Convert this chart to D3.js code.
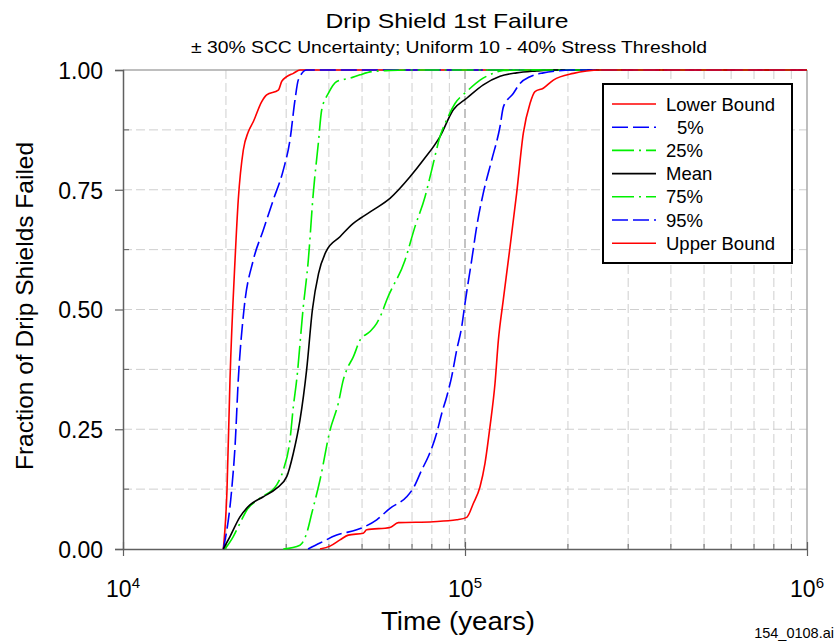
<!DOCTYPE html>
<html>
<head>
<meta charset="utf-8">
<script src="https://cdn.jsdelivr.net/npm/d3@7"></script>
<style>
  html, body { margin: 0; padding: 0; background: #fff; }
  svg { display: block; font-family: "Liberation Sans", Arial, sans-serif; }
</style>
</head>
<body>
<svg id="chart" width="840" height="643"></svg>
<script>
// ---- data (time in years, fraction failed) ----
const seriesNames = ["Lower Bound", "5%", "25%", "Mean", "75%", "95%", "Upper Bound"];
const lowerBoundT = [19650, 20140, 20550, 21260, 21730, 22480, 23250, 24040, 25450, 26310, 28450, 29110, 30110, 31480, 32920, 1000000];
const lowerBoundF = [0, 0.123, 0.353, 0.603, 0.729, 0.833, 0.871, 0.892, 0.934, 0.948, 0.958, 0.976, 0.986, 0.993, 1.0, 1.0];
const p05T = [19650, 20780, 21260, 21730, 22580, 24040, 25720, 27510, 29420, 30780, 31830, 32550, 34440, 1000000];
const p05F = [0, 0.123, 0.214, 0.353, 0.5, 0.603, 0.666, 0.729, 0.791, 0.854, 0.937, 0.979, 1.0, 1.0];
const p25T = [19870, 21010, 21980, 23000, 25150, 28150, 29420, 30780, 31480, 32200, 33600, 34820, 36010, 37250, 38110, 39840, 42160, 46100, 49320, 53940, 60350, 69060, 1000000];
const p25F = [0, 0.026, 0.054, 0.081, 0.106, 0.134, 0.165, 0.228, 0.297, 0.353, 0.5, 0.603, 0.743, 0.847, 0.917, 0.951, 0.976, 0.983, 0.99, 0.997, 0.999, 1.0, 1.0];
const meanT = [19650, 20550, 21980, 23510, 25720, 28150, 30110, 31480, 32920, 34440, 35800, 37300, 39300, 43100, 47140, 49320, 53940, 60350, 69060, 75520, 84510, 92430, 101150, 113100, 126600, 141600, 162000, 177200, 1000000];
const meanF = [0, 0.026, 0.067, 0.092, 0.109, 0.127, 0.151, 0.2, 0.269, 0.375, 0.5, 0.575, 0.622, 0.652, 0.68, 0.69, 0.708, 0.732, 0.777, 0.812, 0.861, 0.917, 0.941, 0.969, 0.987, 0.994, 0.998, 1.0, 1.0];
const p75T = [29420, 32920, 34440, 35630, 37670, 40300, 42610, 44070, 45090, 47140, 49320, 52750, 55180, 57070, 59030, 66770, 71420, 76380, 79910, 84510, 88410, 93490, 101150, 110640, 121000, 129500, 144800, 1000000];
const p75F = [0, 0.008, 0.033, 0.074, 0.144, 0.248, 0.304, 0.353, 0.374, 0.401, 0.436, 0.454, 0.471, 0.492, 0.52, 0.603, 0.673, 0.735, 0.791, 0.861, 0.896, 0.93, 0.955, 0.979, 0.993, 0.999, 1.0, 1.0];
const p95T = [34750, 37670, 42160, 48230, 51010, 55180, 60350, 67530, 70600, 74720, 78110, 82660, 85490, 88410, 91430, 94560, 97810, 100000, 104600, 108200, 113100, 119700, 126600, 129500, 138400, 144800, 154900, 169400, 185400, 202800, 1000000];
const p95F = [0, 0.0125, 0.029, 0.04, 0.047, 0.061, 0.085, 0.109, 0.127, 0.165, 0.193, 0.242, 0.283, 0.318, 0.36, 0.415, 0.464, 0.513, 0.603, 0.673, 0.743, 0.812, 0.882, 0.923, 0.951, 0.972, 0.986, 0.994, 0.998, 1.0, 1.0];
const upperBoundT = [37670, 40300, 43100, 45580, 50420, 51590, 60350, 63830, 80780, 94560, 101150, 105750, 110640, 114400, 118300, 122400, 125200, 129400, 133900, 141600, 148100, 154900, 160200, 169400, 181300, 207400, 226900, 248200, 1000000];
const upperBoundF = [0, 0.006, 0.019, 0.029, 0.033, 0.04, 0.045, 0.055, 0.057, 0.061, 0.066, 0.095, 0.13, 0.179, 0.255, 0.346, 0.436, 0.52, 0.603, 0.743, 0.868, 0.93, 0.955, 0.962, 0.979, 0.993, 0.998, 1.0, 1.0];

const yTickValues = [0, 0.25, 0.5, 0.75, 1.0];
const yMinorValues = [0.125, 0.375, 0.625, 0.875];
const xMajorValues = [1e4, 1e5, 1e6];
const xTickExponents = ["4", "5", "6"];

const titleText = "Drip Shield 1st Failure";
const subtitleText = "\u00B1 30% SCC Uncertainty; Uniform 10 - 40% Stress Threshold";
const xLabelText = "Time (years)";
const yLabelText = "Fraction of Drip Shields Failed";
const fileTag = "154_0108.ai";

// ---- styles ----
const styles = [
  {color: "#ff0000", dash: null},
  {color: "#0000ff", dash: "16,5"},
  {color: "#00f000", dash: "22,5,2,5"},
  {color: "#000000", dash: null},
  {color: "#00f000", dash: "22,5,2,5"},
  {color: "#0000ff", dash: "16,5"},
  {color: "#ff0000", dash: null}
];
const seriesT = [lowerBoundT, p05T, p25T, meanT, p75T, p95T, upperBoundT];
const seriesF = [lowerBoundF, p05F, p25F, meanF, p75F, p95F, upperBoundF];

const svg = d3.select("#chart");
const pLeft = 123, pRight = 807, pTop = 70, pBottom = 549;
const x = d3.scaleLog().domain([1e4, 1e6]).range([pLeft, pRight]);
const y = d3.scaleLinear().domain([0, 1]).range([pBottom, pTop]);

// ---- grid ----
const xGridValues = [];
for (let e = 4; e < 6; e++) for (let m = 1; m <= 9; m++) xGridValues.push(m * Math.pow(10, e));
xGridValues.push(1e6);
const grid = svg.append("g");
grid.selectAll("line.vg").data(xGridValues.filter(v => v > 1e4 && v < 1e6)).enter().append("line")
  .attr("x1", d => x(d)).attr("x2", d => x(d)).attr("y1", pTop).attr("y2", pBottom)
  .attr("stroke", d => (d === 1e5 ? "#b0b0b0" : "#cfcfcf"))
  .attr("stroke-width", d => (d === 1e5 ? 1.5 : 1))
  .attr("stroke-dasharray", "9,4");
grid.selectAll("line.hg").data(d3.range(1, 8).map(i => i * 0.125)).enter().append("line")
  .attr("x1", pLeft).attr("x2", pRight).attr("y1", d => y(d)).attr("y2", d => y(d))
  .attr("stroke", "#cfcfcf").attr("stroke-width", 1).attr("stroke-dasharray", "9,4");

// frame top/right
svg.append("line").attr("x1", pLeft).attr("x2", pRight).attr("y1", pTop).attr("y2", pTop)
  .attr("stroke", "#a8a8a8").attr("stroke-width", 1.5);
svg.append("line").attr("x1", pRight).attr("x2", pRight).attr("y1", pTop).attr("y2", pBottom)
  .attr("stroke", "#a8a8a8").attr("stroke-width", 1.5);

// ---- axes ----
const axisColor = "#606060";
const yAxis = d3.axisLeft(y).tickValues(yTickValues).tickFormat(d3.format(".2f")).tickSize(8).tickPadding(12);
const gy = svg.append("g").attr("transform", `translate(${pLeft},0)`).call(yAxis);
gy.select(".domain").attr("stroke", axisColor).attr("stroke-width", 1.5);
gy.selectAll(".tick line").attr("stroke", axisColor).attr("stroke-width", 1.2);
gy.selectAll(".tick text").attr("font-size", 23).attr("fill", "#000")
  .attr("font-family", "Liberation Sans, Arial, sans-serif").attr("dy", "0.36em");
// minor y ticks (inside)
svg.append("g").selectAll("line").data(yMinorValues).enter().append("line")
  .attr("x1", pLeft).attr("x2", pLeft + 6).attr("y1", d => y(d)).attr("y2", d => y(d))
  .attr("stroke", axisColor).attr("stroke-width", 1);

const xAxis = d3.axisBottom(x).tickValues(xMajorValues).tickFormat("").tickSizeInner(7).tickSizeOuter(0);
const gx = svg.append("g").attr("transform", `translate(0,${pBottom})`).call(xAxis);
gx.select(".domain").attr("stroke", axisColor).attr("stroke-width", 1.5);
gx.selectAll(".tick line").attr("y1", -7).attr("stroke", axisColor).attr("stroke-width", 1.2);
// minor x ticks (inside)
svg.append("g").selectAll("line").data(xGridValues.filter(v => xMajorValues.indexOf(v) < 0)).enter().append("line")
  .attr("x1", d => x(d)).attr("x2", d => x(d)).attr("y1", pBottom).attr("y2", pBottom - 5)
  .attr("stroke", axisColor).attr("stroke-width", 1);
// x tick labels 10^n
xMajorValues.forEach((v, i) => {
  const t = svg.append("text").attr("x", x(v)).attr("y", 597).attr("text-anchor", "middle")
    .attr("font-size", 23).attr("fill", "#000");
  t.append("tspan").text("10");
  t.append("tspan").attr("font-size", 15).attr("dy", -9).text(xTickExponents[i]);
});

// ---- series ----
const line = d3.line().x(d => x(d[0])).y(d => y(d[1])).curve(d3.curveMonotoneX);
const plot = svg.append("g");
seriesNames.forEach((name, i) => {
  const pts = seriesT[i].map((t, j) => [t, seriesF[i][j]]);
  plot.append("path").datum(pts).attr("d", line)
    .attr("fill", "none").attr("stroke", styles[i].color).attr("stroke-width", 1.6)
    .attr("stroke-dasharray", styles[i].dash);
});

// ---- legend ----
const lg = svg.append("g");
lg.append("rect").attr("x", 603).attr("y", 84).attr("width", 189).attr("height", 179)
  .attr("fill", "#fff").attr("stroke", "#000").attr("stroke-width", 2);
seriesNames.forEach((name, i) => {
  const cy = 104 + i * 23.2;
  lg.append("line").attr("x1", 612).attr("x2", 656).attr("y1", cy).attr("y2", cy)
    .attr("stroke", styles[i].color).attr("stroke-width", 1.6).attr("stroke-dasharray", styles[i].dash);
  lg.append("text").attr("x", name === "5%" ? 677 : 666).attr("y", cy + 6.5)
    .attr("font-size", 18.5).attr("fill", "#000").text(name);
});

// ---- titles ----
svg.append("text").attr("x", 447).attr("y", 28).attr("text-anchor", "middle")
  .attr("font-size", 21).attr("textLength", 243).attr("lengthAdjust", "spacingAndGlyphs").text(titleText);
svg.append("text").attr("x", 449).attr("y", 53).attr("text-anchor", "middle")
  .attr("font-size", 16.5).attr("textLength", 516).attr("lengthAdjust", "spacingAndGlyphs").text(subtitleText);
svg.append("text").attr("x", 458).attr("y", 630).attr("text-anchor", "middle")
  .attr("font-size", 25).attr("textLength", 154).attr("lengthAdjust", "spacingAndGlyphs").text(xLabelText);
svg.append("text").attr("transform", "translate(33,306) rotate(-90)").attr("text-anchor", "middle")
  .attr("font-size", 24.5).text(yLabelText);
svg.append("text").attr("x", 834).attr("y", 638).attr("text-anchor", "end")
  .attr("font-size", 14.5).text(fileTag);
</script>
</body>
</html>
